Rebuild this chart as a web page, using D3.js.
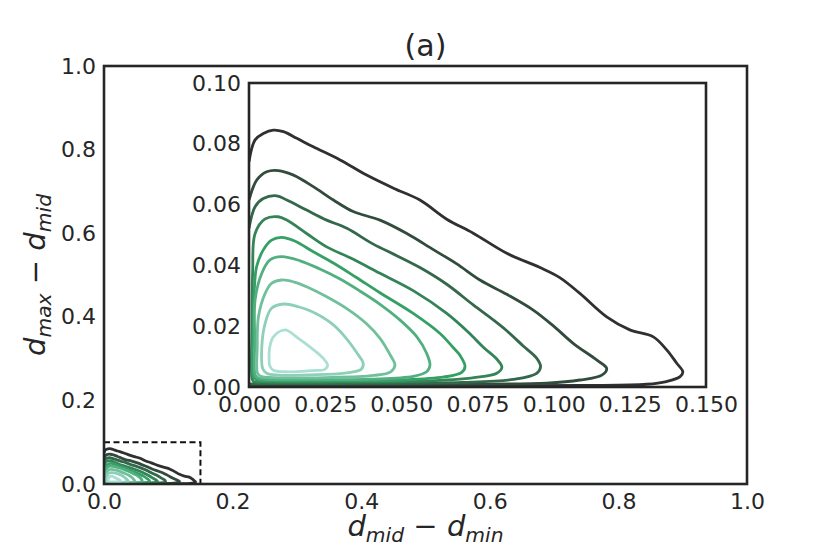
<!DOCTYPE html>
<html>
<head>
<meta charset="utf-8">
<script src="https://cdn.jsdelivr.net/npm/d3@7"></script>
<style>
body { margin: 0; background: #fff; }
text { font-family: "DejaVu Sans", sans-serif; fill: #262626; }
</style>
</head>
<body>
<svg id="chart" width="830" height="554"></svg>
<script>
// tick values
const mainTicks = [0, 0.2, 0.4, 0.6, 0.8, 1.0];
const insetXTicks = [0, 0.025, 0.05, 0.075, 0.1, 0.125, 0.15];
const insetYTicks = [0, 0.02, 0.04, 0.06, 0.08, 0.1];
// zoomed region shown in the inset [x max, y max]
const zoomBox = [0.15, 0.1];

// density contours, outermost (lowest level) first
const c1 = [[0, .0741], [.002, .0813], [.0047, .0834], [.008, .0845], [.0113, .084], [.0157, .0818], [.0211, .079],
    [.0299, .0747], [.0386, .0697], [.0474, .0654], [.0561, .0615], [.0649, .0552], [.0736, .0506], [.0846, .044],
    [.0955, .0393], [.102, .036], [.1086, .0308], [.1174, .0231], [.125, .0188], [.1327, .0165], [.1371, .0122],
    [.1404, .0078], [.1424, .005], [.1415, .0034], [.137, .0018], [.1305, .0009], [.11, .0005], [.06, .0004],
    [.01, .0004], [0, .0003]];
const c2 = [[0, .0615], [.0025, .068], [.0058, .0708], [.0096, .0712], [.0146, .0697], [.0211, .0659], [.0277, .0615],
    [.0342, .0577], [.043, .0549], [.0518, .0505], [.0605, .0452], [.0682, .0405], [.0758, .0352], [.0846, .0305],
    [.0933, .0253], [.1, .02], [.1065, .0143], [.1141, .0089], [.1174, .0061], [.1158, .0039], [.1086, .0023],
    [.0977, .0013], [.07, .0009], [.03, .0008], [0, .0007]];
const c3 = [[0, .0522], [.002, .0593], [.0047, .062], [.0091, .0629], [.0124, .0615], [.0189, .0582], [.0255, .0549],
    [.0321, .0522], [.0408, .047], [.0485, .0432], [.0561, .0393], [.0649, .0338], [.0736, .027], [.08, .0222],
    [.0846, .0185], [.09, .0135], [.0944, .0095], [.0957, .0067], [.0944, .0045], [.0868, .0025], [.07, .0015],
    [.04, .0012], [.01, .0011], [0, .001]];
const c4 = [[.001, .003], [.001, .02], [.0012, .038], [.002, .0505], [.0053, .0553], [.0096, .056], [.0124, .0549],
    [.0189, .0505], [.0255, .0461], [.0332, .0425], [.043, .0374], [.0539, .0317], [.0649, .0242], [.072, .018],
    [.077, .013], [.0813, .0092], [.083, .0065], [.0813, .0045], [.0758, .0033], [.06, .002], [.03, .0016],
    [.005, .0016], [.0015, .0018]];
const c5 = [[.0014, .0035], [.0014, .02], [.0018, .033], [.0025, .0396], [.0047, .0451], [.0074, .0483], [.0107, .0492],
    [.015, .048], [.0211, .0445], [.0277, .0408], [.035, .0362], [.043, .031], [.0539, .0242], [.0627, .0176],
    [.067, .013], [.0692, .0105], [.0709, .0068], [.0698, .0048], [.064, .0033], [.05, .0023], [.03, .002],
    [.008, .002], [.0025, .0023]];
const c6 = [[.002, .004], [.0019, .015], [.002, .0286], [.0042, .0374], [.0069, .0418], [.0107, .0429], [.0168, .0415],
    [.0233, .0388], [.0299, .0355], [.0365, .0315], [.043, .0272], [.0496, .022], [.0551, .0165], [.0583, .0111],
    [.0594, .0072], [.0583, .005], [.0539, .0035], [.04, .0026], [.02, .0024], [.006, .0025], [.0028, .003]];
const c7 = [[.0028, .0045], [.0027, .013], [.0031, .0231], [.0053, .0308], [.0074, .0341], [.0107, .0352], [.0146, .0346],
    [.0189, .033], [.0255, .0297], [.0321, .0258], [.0386, .0208], [.043, .016], [.0462, .0108], [.0479, .0072],
    [.0465, .005], [.041, .0038], [.025, .0031], [.008, .0031], [.0038, .0035]];
const c8 = [[.0045, .006], [.0042, .0132], [.0053, .0209], [.0074, .0259], [.0115, .0273], [.0162, .0264], [.0206, .0248],
    [.0271, .0209], [.0315, .0165], [.0359, .0105], [.0375, .0078], [.0368, .0058], [.0315, .0046], [.0206, .004],
    [.0096, .0039], [.0058, .0045]];
const c9 = [[.0066, .009], [.0068, .013], [.008, .0165], [.0118, .0188], [.0162, .016], [.0206, .0127], [.0244, .0094],
    [.0258, .0072], [.0249, .0058], [.0206, .0054], [.0129, .005], [.008, .0055], [.0068, .007]];
const contours = [c1, c2, c3, c4, c5, c6, c7, c8, c9];

const ink = '#262626';
const svg = d3.select('#chart');

// main axes scales
const x = d3.scaleLinear().domain([0, 1]).range([104, 747]);
const y = d3.scaleLinear().domain([0, 1]).range([484, 66]);
// inset axes scales
const xi = d3.scaleLinear().domain([0, 0.15]).range([249, 706]);
const yi = d3.scaleLinear().domain([0, 0.1]).range([387, 83]);

// BuGn_d style ramp: dark grey for the outer level to mint for the inner one
const color = d3.scaleSequential(d3.piecewise(d3.interpolateRgb, ['#303030', '#35a064', '#aadfd3']))
    .domain([0, contours.length - 1]);

const defs = svg.append('defs');

function drawContours(g, xs, ys, id) {
    // clip the lines to the plotting area
    defs.append('clipPath').attr('id', id)
        .append('rect')
        .attr('x', xs.range()[0]).attr('y', ys.range()[1])
        .attr('width', xs.range()[1] - xs.range()[0])
        .attr('height', ys.range()[0] - ys.range()[1]);
    let layer = g.append('g').attr('clip-path', `url(#${id})`);
    contours.forEach((c, i) => {
        // loops that do not start on the left axis are closed
        let closed = c[0][0] > 0;
        let line = d3.line()
            .x(d => xs(d[0]))
            .y(d => ys(d[1]))
            .curve(closed ? d3.curveCatmullRomClosed : d3.curveCatmullRom);
        layer.append('path')
            .attr('d', line(c))
            .attr('fill', 'none')
            .attr('stroke', color(i))
            .attr('stroke-width', 2.8)
            .attr('stroke-linejoin', 'round');
    });
}

function drawAxes(g, xs, ys, xt, yt, xf, yf, pad) {
    let xa = g.append('g')
        .attr('transform', `translate(0,${ys.range()[0]})`)
        .call(d3.axisBottom(xs).tickValues(xt).tickFormat(xf).tickSize(0).tickPadding(pad));
    let ya = g.append('g')
        .attr('transform', `translate(${xs.range()[0]},0)`)
        .call(d3.axisLeft(ys).tickValues(yt).tickFormat(yf).tickSize(0).tickPadding(8));
    [xa, ya].forEach(a => {
        a.select('.domain').remove();
        a.attr('font-size', 22).attr('font-family', '"DejaVu Sans", sans-serif');
        a.selectAll('text').attr('fill', ink);
    });
    // frame
    g.append('rect')
        .attr('x', xs.range()[0]).attr('y', ys.range()[1])
        .attr('width', xs.range()[1] - xs.range()[0])
        .attr('height', ys.range()[0] - ys.range()[1])
        .attr('fill', 'none')
        .attr('stroke', ink)
        .attr('stroke-width', 2.6);
}

// ---- main axes
const main = svg.append('g');
drawContours(main, x, y, 'clip-main');
// dashed box marking the zoomed region
main.append('rect')
    .attr('x', x(0)).attr('y', y(zoomBox[1]))
    .attr('width', x(zoomBox[0]) - x(0))
    .attr('height', y(0) - y(zoomBox[1]))
    .attr('fill', 'none')
    .attr('stroke', '#111')
    .attr('stroke-width', 2)
    .attr('stroke-dasharray', '6,3.5');
drawAxes(main, x, y, mainTicks, mainTicks, d3.format('.1f'), d3.format('.1f'), 9.5);

// title
svg.append('text')
    .attr('x', (x.range()[0] + x.range()[1]) / 2)
    .attr('y', 56)
    .attr('text-anchor', 'middle')
    .attr('font-size', 30)
    .text('(a)');

// axis labels with subscripts
function mathLabel(sel, a, b) {
    sel.append('tspan').attr('font-style', 'italic').text('d');
    sel.append('tspan').attr('font-style', 'italic').attr('font-size', '70%').attr('dy', 6).text(a);
    sel.append('tspan').attr('dy', -6).text(' \u2212 ');
    sel.append('tspan').attr('font-style', 'italic').text('d');
    sel.append('tspan').attr('font-style', 'italic').attr('font-size', '70%').attr('dy', 6).text(b);
}
svg.append('text')
    .attr('x', (x.range()[0] + x.range()[1]) / 2)
    .attr('y', 536)
    .attr('text-anchor', 'middle')
    .attr('font-size', 29)
    .call(mathLabel, 'mid', 'min');
svg.append('text')
    .attr('transform', `translate(45,${(y.range()[0] + y.range()[1]) / 2}) rotate(-90)`)
    .attr('text-anchor', 'middle')
    .attr('font-size', 29)
    .call(mathLabel, 'max', 'mid');

// ---- inset axes
const inset = svg.append('g');
inset.append('rect')
    .attr('x', xi.range()[0]).attr('y', yi.range()[1])
    .attr('width', xi.range()[1] - xi.range()[0])
    .attr('height', yi.range()[0] - yi.range()[1])
    .attr('fill', '#fff');
drawContours(inset, xi, yi, 'clip-inset');
drawAxes(inset, xi, yi, insetXTicks, insetYTicks, d3.format('.3f'), d3.format('.2f'), 9);
</script>
</body>
</html>
